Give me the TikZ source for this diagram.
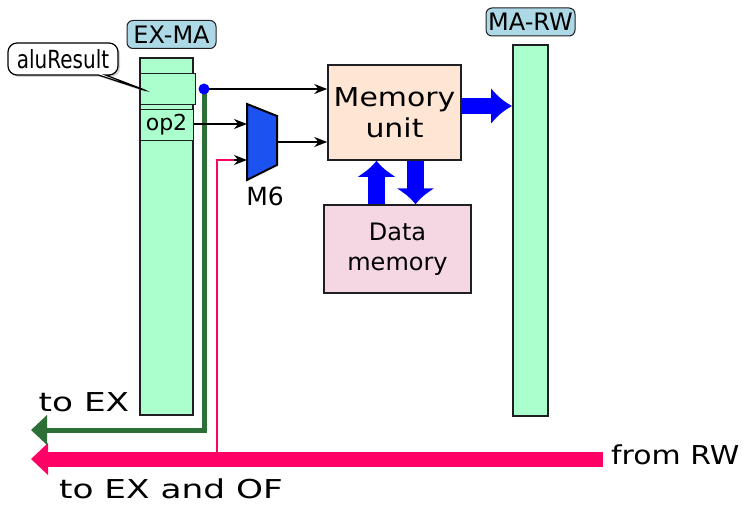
\documentclass[tikz,border=0pt]{standalone}
\usepackage{fontspec}
\setmainfont{DejaVu Sans}
\newfontfamily\wideFont{DejaVu Sans}[FakeStretch=1.32]
\newfontfamily\semiWideFont{DejaVu Sans}[FakeStretch=1.15]
\newfontfamily\narrowFont{DejaVu Sans}[FakeStretch=0.8]
\usetikzlibrary{arrows.meta,positioning,shapes.callouts,shadows}
\definecolor{regMint}{RGB}{170,255,204}
\definecolor{tagBlue}{RGB}{173,216,230}
\definecolor{unitPeach}{RGB}{255,229,212}
\definecolor{memPink}{RGB}{244,215,227}
\definecolor{muxBlue}{RGB}{28,82,240}
\definecolor{pathBlue}{RGB}{0,0,255}
\definecolor{fwdGreen}{RGB}{44,112,56}
\definecolor{fwdPink}{RGB}{255,0,102}
\definecolor{inkDark}{RGB}{30,30,35}
\tikzset{
  regbar/.style={draw=inkDark, line width=2pt, fill=regMint, minimum width=53pt, inner sep=0pt},
  slot/.style={draw=inkDark, line width=1pt, fill=regMint, minimum width=53pt, minimum height=31pt, inner sep=0pt, font=\fontsize{22pt}{26pt}\selectfont},
  regtag/.style={draw=inkDark, line width=1pt, rounded corners=6pt, fill=tagBlue, minimum width=89pt, minimum height=28pt, inner sep=0pt, font=\fontsize{24pt}{28pt}\selectfont},
  unitbox/.style={draw=inkDark, line width=1.5pt, align=center, inner sep=0pt},
  lbl/.style={inner sep=0pt, font=\fontsize{25pt}{30pt}\selectfont},
  wire/.style={-{Stealth[length=13pt,width=10pt]}, line width=1.5pt, draw=black},
  bus/.style={-{Latex[length=16pt,width=40pt]}, line width=17pt, draw=pathBlue},
  fwdgreen/.style={-{Triangle[length=16pt,width=29pt]}, line width=5pt, draw=fwdGreen},
  fwdpink/.style={-{Triangle[length=17pt,width=31pt]}, line width=15pt, draw=fwdPink}
}
\begin{document}
\begin{tikzpicture}[x=1pt, y=-1pt]
  \useasboundingbox (0,0) rectangle (746,508);
  % pipeline registers
  \node[regbar, minimum height=356pt] (exma) at (166.5,236.5) {};
  \node[regtag] (exmatag) at (171.5,34.5) {EX-MA};
  \node[slot, minimum width=55pt] (aluslot) at (167.5,89) {};
  \node[slot] (op2slot) at (166.5,125) {op2};
  \node[regbar, minimum width=35pt, minimum height=371pt] (marw) at (530.5,230.5) {};
  \node[regtag] (marwtag) at (530.5,22) {MA-RW};
  \node[rectangle callout, rounded corners=9pt, draw=black, line width=1.2pt, fill=white,
        drop shadow={opacity=0.35, shadow xshift=2pt, shadow yshift=-2pt},
        callout absolute pointer={(150,92)}, minimum width=110pt, minimum height=32pt,
        inner sep=0pt, font=\narrowFont\fontsize{25pt}{28pt}\selectfont] (alucallout) at (63,59) {aluResult};
  % units
  \node[unitbox, fill=unitPeach, minimum width=133pt, minimum height=95pt,
        font=\semiWideFont\fontsize{26pt}{31pt}\selectfont] (memunit) at (394.5,112.5) {Memory\\unit};
  \node[unitbox, fill=memPink, minimum width=147pt, minimum height=88pt,
        font=\fontsize{24pt}{30pt}\selectfont] (datamem) at (397.5,249) {Data\\memory};
  % M6 multiplexer
  \draw[fill=muxBlue, line width=2pt, line join=miter] (247,104) -- (277,116) -- (277,165) -- (247,180) -- cycle;
  \coordinate (muxinA) at (247,124);
  \coordinate (muxinB) at (247,160);
  \coordinate (muxout) at (277,142);
  \node[lbl] (muxlbl) at (265,196) {M6};
  % forwarding ends
  \coordinate (tap) at (204,89);
  \coordinate (exout) at (31,430);
  \coordinate (rwin) at (603,459);
  \coordinate (exofout) at (31,459);
  \coordinate (pinktap) at (217,459);
  \node[lbl, font=\wideFont\fontsize{26pt}{30pt}\selectfont] (toex) at (84,402) {to EX};
  \node[lbl, anchor=west, font=\semiWideFont\fontsize{26pt}{30pt}\selectfont] (fromrw) at (611,455) {from RW};
  \node[lbl, font=\wideFont\fontsize{26pt}{30pt}\selectfont] (toexof) at (171,489) {to EX and OF};
  % connectors
  \draw[fwdpink] (rwin) -- (exofout);
  \draw[line width=2.5pt, draw=fwdPink] (pinktap) |- ([xshift=-12pt]muxinB);
  \draw[wire] ([xshift=-13pt]muxinB) -- (muxinB);
  \draw[fwdgreen] (tap) |- (exout);
  \draw[wire] (tap) -- (memunit.west |- tap);
  \draw[wire] (op2slot.east |- muxinA) -- (muxinA);
  \draw[wire] (muxout) -- (memunit.west |- muxout);
  \draw[bus] (datamem.north -| 376.5,0) -- (memunit.south -| 376.5,0);
  \draw[bus] (memunit.south -| 415.5,0) -- (datamem.north -| 415.5,0);
  \draw[bus, -{Latex[length=21pt,width=37pt]}, line width=16pt] (memunit.east |- 0,106) -- (marw.west |- 0,106);
  \fill[pathBlue] (tap) circle (5.5pt);
\end{tikzpicture}
\end{document}
